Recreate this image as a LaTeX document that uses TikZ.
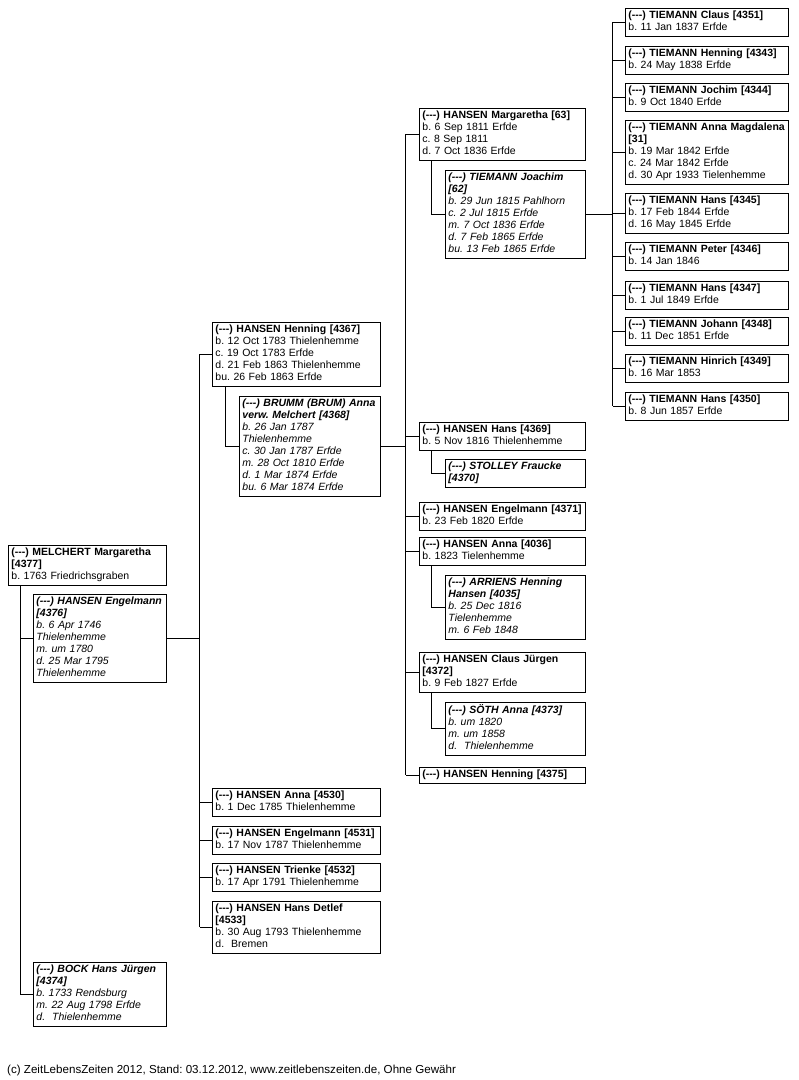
\documentclass[tikz,border=0pt]{standalone}
\usepackage{fontspec}
\newfontfamily\arialfont{Liberation Sans}
\usetikzlibrary{calc}
\frenchspacing
\hyphenpenalty=10000

\begin{document}
\begin{tikzpicture}[x=1pt, y=-1pt,
    person/.style={draw, line width=0.9pt, anchor=north west, inner xsep=3pt, inner ysep=2pt,
      align=left, text width=#1,
      font=\arialfont\fontsize{10.5}{12}\selectfont,
      execute at begin node=\strut, execute at end node=\strut},
    spouse/.style={person=#1, font=\arialfont\itshape\fontsize{10.5}{12}\selectfont},
    link/.style={line width=0.9pt}]

    \useasboundingbox (0,0) rectangle (799,1080);

    % Generation 1: MELCHERT Margaretha and her husbands
    \node[person=152] (p4377) at (8,545) {\textbf{(---) MELCHERT Margaretha}\\\textbf{[4377]}\\b. 1763 Friedrichsgraben};
    \node[spouse=127] (s4376) at (33,594) {\textbf{(---) HANSEN Engelmann}\\\textbf{[4376]}\\b. 6 Apr 1746\\Thielenhemme\\m. um 1780\\d. 25 Mar 1795\\Thielenhemme};
    \node[spouse=127] (s4374) at (33,962) {\textbf{(---) BOCK Hans Jürgen}\\\textbf{[4374]}\\b. 1733 Rendsburg\\m. 22 Aug 1798 Erfde\\d.~~Thielenhemme};

    % Generation 2
    \node[person=162] (c4367) at (212,322) {\textbf{(---) HANSEN Henning [4367]}\\b. 12 Oct 1783 Thielenhemme\\c. 19 Oct 1783 Erfde\\d. 21 Feb 1863 Thielenhemme\\bu. 26 Feb 1863 Erfde};
    \node[spouse=135] (s4368) at (239,396) {\textbf{(---) BRUMM (BRUM) Anna}\\\textbf{verw. Melchert [4368]}\\b. 26 Jan 1787\\Thielenhemme\\c. 30 Jan 1787 Erfde\\m. 28 Oct 1810 Erfde\\d. 1 Mar 1874 Erfde\\bu. 6 Mar 1874 Erfde};
    \node[person=162] (c4530) at (212,788) {\textbf{(---) HANSEN Anna [4530]}\\b. 1 Dec 1785 Thielenhemme};
    \node[person=162] (c4531) at (212,826) {\textbf{(---) HANSEN Engelmann [4531]}\\b. 17 Nov 1787 Thielenhemme};
    \node[person=162] (c4532) at (212,863) {\textbf{(---) HANSEN Trienke [4532]}\\b. 17 Apr 1791 Thielenhemme};
    \node[person=162] (c4533) at (212,901) {\textbf{(---) HANSEN Hans Detlef}\\\textbf{[4533]}\\b. 30 Aug 1793 Thielenhemme\\d.~~Bremen};

    % Generation 3
    \node[person=160] (c63) at (419,108) {\textbf{(---) HANSEN Margaretha [63]}\\b. 6 Sep 1811 Erfde\\c. 8 Sep 1811\\d. 7 Oct 1836 Erfde};
    \node[spouse=134] (s62) at (445,170) {\textbf{(---) TIEMANN Joachim}\\\textbf{[62]}\\b. 29 Jun 1815 Pahlhorn\\c. 2 Jul 1815 Erfde\\m. 7 Oct 1836 Erfde\\d. 7 Feb 1865 Erfde\\bu. 13 Feb 1865 Erfde};
    \node[person=160] (c4369) at (419,422) {\textbf{(---) HANSEN Hans [4369]}\\b. 5 Nov 1816 Thielenhemme};
    \node[spouse=134] (s4370) at (445,459) {\textbf{(---) STOLLEY Fraucke}\\\textbf{[4370]}};
    \node[person=160] (c4371) at (419,502) {\textbf{(---) HANSEN Engelmann [4371]}\\b. 23 Feb 1820 Erfde};
    \node[person=160] (c4036) at (419,537) {\textbf{(---) HANSEN Anna [4036]}\\b. 1823 Tielenhemme};
    \node[spouse=134] (s4035) at (445,575) {\textbf{(---) ARRIENS Henning}\\\textbf{Hansen [4035]}\\b. 25 Dec 1816\\Tielenhemme\\m. 6 Feb 1848};
    \node[person=160] (c4372) at (419,652) {\textbf{(---) HANSEN Claus Jürgen}\\\textbf{[4372]}\\b. 9 Feb 1827 Erfde};
    \node[spouse=134] (s4373) at (445,702) {\textbf{(---) SÖTH Anna [4373]}\\b. um 1820\\m. um 1858\\d.~~Thielenhemme};
    \node[person=160] (c4375) at (419,767) {\textbf{(---) HANSEN Henning [4375]}};

    % Generation 4: TIEMANN children
    \node[person=157] (t4351) at (625,8) {\textbf{(---) TIEMANN Claus [4351]}\\b. 11 Jan 1837 Erfde};
    \node[person=157] (t4343) at (625,46) {\textbf{(---) TIEMANN Henning [4343]}\\b. 24 May 1838 Erfde};
    \node[person=157] (t4344) at (625,83) {\textbf{(---) TIEMANN Jochim [4344]}\\b. 9 Oct 1840 Erfde};
    \node[person=157] (t31) at (625,120) {\textbf{(---) TIEMANN Anna Magdalena}\\\textbf{[31]}\\b. 19 Mar 1842 Erfde\\c. 24 Mar 1842 Erfde\\d. 30 Apr 1933 Tielenhemme};
    \node[person=157] (t4345) at (625,193) {\textbf{(---) TIEMANN Hans [4345]}\\b. 17 Feb 1844 Erfde\\d. 16 May 1845 Erfde};
    \node[person=157] (t4346) at (625,242) {\textbf{(---) TIEMANN Peter [4346]}\\b. 14 Jan 1846};
    \node[person=157] (t4347) at (625,281) {\textbf{(---) TIEMANN Hans [4347]}\\b. 1 Jul 1849 Erfde};
    \node[person=157] (t4348) at (625,317) {\textbf{(---) TIEMANN Johann [4348]}\\b. 11 Dec 1851 Erfde};
    \node[person=157] (t4349) at (625,354) {\textbf{(---) TIEMANN Hinrich [4349]}\\b. 16 Mar 1853};
    \node[person=157] (t4350) at (625,392) {\textbf{(---) TIEMANN Hans [4350]}\\b. 8 Jun 1857 Erfde};

    % partner lines
    \draw[link] ([xshift=12pt]p4377.south west) |- (s4376.west);
    \draw[link] ([xshift=12pt]p4377.south west) |- (s4374.west);
    \draw[link] ([xshift=13pt]c4367.south west) |- (s4368.west);
    \foreach \kid/\sp in {c63/s62, c4369/s4370, c4036/s4035, c4372/s4373}
        \draw[link] ([xshift=12pt]\kid.south west) |- (\sp.west);

    % children of HANSEN Engelmann
    \draw[link] (s4376.east) -- ++(33,0) coordinate (bus1);
    \draw[link] (bus1 |- c4367.west) -- (bus1 |- c4533.west);
    \foreach \kid in {c4367, c4530, c4531, c4532, c4533}
        \draw[link] (bus1 |- \kid.west) -- (\kid.west);

    % children of BRUMM Anna
    \draw[link] (s4368.east) -- ++(25,0) coordinate (bus2);
    \draw[link] (bus2 |- c63.west) -- (bus2 |- c4375.west);
    \foreach \kid in {c63, c4369, c4371, c4036, c4372, c4375}
        \draw[link] (bus2 |- \kid.west) -- (\kid.west);

    % children of TIEMANN Joachim
    \draw[link] (s62.east) -- ++(27,0) coordinate (bus3);
    \draw[link] (bus3 |- t4351.west) -- (bus3 |- t4350.west);
    \foreach \kid in {t4351, t4343, t4344, t31, t4345, t4346, t4347, t4348, t4349, t4350}
        \draw[link] (bus3 |- \kid.west) -- (\kid.west);

    % footer
    \node[anchor=base west, inner sep=0pt, font=\arialfont\fontsize{11.6}{14}\selectfont] (footer) at (7,1073)
        {(c) ZeitLebensZeiten 2012, Stand: 03.12.2012, www.zeitlebenszeiten.de, Ohne Gewähr};

\end{tikzpicture}
\end{document}
